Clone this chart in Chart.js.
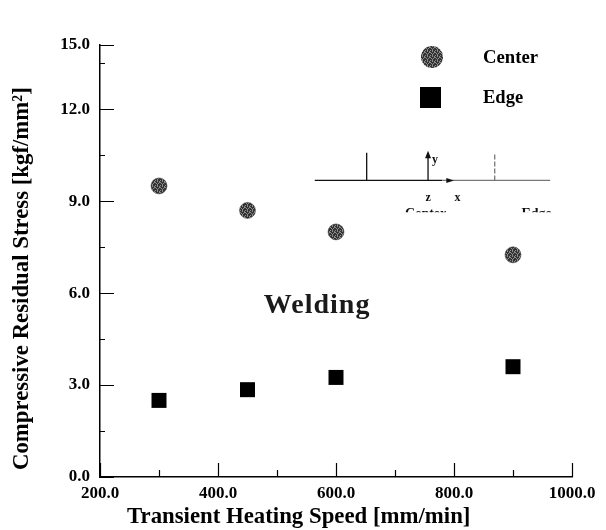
<!DOCTYPE html>
<html>
<head>
<meta charset="utf-8">
<script src="https://cdn.jsdelivr.net/npm/chart.js@4"></script>
<style>
  html, body { margin: 0; padding: 0; background: #fff; }
  #wrap { width: 606px; height: 530px; }
</style>
</head>
<body>
<div id="wrap"><canvas id="stress-chart"></canvas></div>
<script>
// values
var speeds = [300, 450, 600, 900];
var centerStress = [9.5, 8.7, 8.0, 7.25];
var edgeStress = [2.5, 2.85, 3.25, 3.6];

var xTickValues = [200, 400, 600, 800, 1000];
var xTickLabels = ['200.0', '400.0', '600.0', '800.0', '1000.0'];
var xMinorTicks = [300, 500, 700, 900];
// the top of the printed axis is cut short, the "15.0" mark sits at about 14.1
var yTickValues = [0, 3, 6, 9, 12, 14.1];
var yTickLabels = ['0.0', '3.0', '6.0', '9.0', '12.0', '15.0'];
var yMinorTicks = [1.5, 4.5, 7.5, 10.5, 13.5];

var xTitle = 'Transient Heating Speed [mm/min]';
var yTitle = 'Compressive Residual Stress [kgf/mm²]';

var serif = '"Liberation Serif", "DejaVu Serif", serif';

function toPoints(xs, ys) {
	return xs.map(function(x, i) { return { x: x, y: ys[i] }; });
}

// speckled grey fill for the round markers (fixed 5x5 tile)
var speckleTile = [
	'#.#..',
	'..#.#',
	'#...#',
	'.#.#.',
	'..#..'
];
function speckle() {
	var c = document.createElement('canvas');
	c.width = 5; c.height = 5;
	var g = c.getContext('2d');
	g.fillStyle = '#333';
	g.fillRect(0, 0, 5, 5);
	g.fillStyle = '#8c8c8c';
	speckleTile.forEach(function(row, r) {
		for (var k = 0; k < row.length; k++) {
			if (row[k] === '#') g.fillRect(k, r, 1, 1);
		}
	});
	return g.createPattern(c, 'repeat');
}
var centerFill = speckle();

// text scaled to a given width
function fitText(ctx, text, size, width) {
	ctx.font = 'bold ' + size + 'px ' + serif;
	var w = ctx.measureText(text).width;
	var s = size * width / w;
	ctx.font = 'bold ' + s.toFixed(1) + 'px ' + serif;
}

// inward ticks, axis titles, legend, inset sketch and the "Welding" label
var decorations = {
	id: 'decorations',
	afterDraw: function(chart) {
		var ctx = chart.ctx;
		var xs = chart.scales.x, ys = chart.scales.y;
		var area = chart.chartArea;
		ctx.save();
		ctx.strokeStyle = '#000';
		ctx.lineWidth = 1.2;
		ctx.beginPath();
		xTickValues.forEach(function(v) {
			var px = Math.round(xs.getPixelForValue(v)) + 0.5;
			ctx.moveTo(px, area.bottom); ctx.lineTo(px, area.bottom - 14);
		});
		xMinorTicks.forEach(function(v) {
			var px = Math.round(xs.getPixelForValue(v)) + 0.5;
			ctx.moveTo(px, area.bottom); ctx.lineTo(px, area.bottom - 7);
		});
		yTickValues.forEach(function(v) {
			var py = Math.round(ys.getPixelForValue(v)) + 0.5;
			ctx.moveTo(area.left, py); ctx.lineTo(area.left + 14, py);
		});
		yMinorTicks.forEach(function(v) {
			var py = Math.round(ys.getPixelForValue(v)) + 0.5;
			ctx.moveTo(area.left, py); ctx.lineTo(area.left + 5, py);
		});
		ctx.stroke();

		// axis titles
		ctx.fillStyle = '#000';
		ctx.textAlign = 'left';
		ctx.textBaseline = 'middle';
		fitText(ctx, xTitle, 21, 343);
		ctx.fillText(xTitle, 127, 517);
		ctx.save();
		ctx.translate(22, 470);
		ctx.rotate(-Math.PI / 2);
		fitText(ctx, yTitle, 20, 382);
		ctx.fillText(yTitle, 0, 0);
		ctx.restore();

		// legend
		var sets = chart.data.datasets;
		ctx.fillStyle = sets[0].backgroundColor;
		ctx.beginPath();
		ctx.arc(432, 57, 11, 0, Math.PI * 2);
		ctx.fill();
		ctx.fillStyle = sets[1].backgroundColor;
		ctx.fillRect(420, 87, 21, 21);
		ctx.fillStyle = '#000';
		fitText(ctx, sets[0].label, 16, 55);
		ctx.fillText(sets[0].label, 483, 58);
		fitText(ctx, sets[1].label, 16, 40);
		ctx.fillText(sets[1].label, 483, 98);

		// inset coordinate sketch
		var px = function(v) { return xs.getPixelForValue(v); };
		var py = function(v) { return ys.getPixelForValue(v); };
		var yBase = py(9.68);
		ctx.lineWidth = 1.3;
		ctx.strokeStyle = '#111';
		ctx.beginPath();
		ctx.moveTo(px(564), yBase); ctx.lineTo(px(780), yBase);
		ctx.moveTo(px(652), yBase); ctx.lineTo(px(652), py(10.58));
		ctx.moveTo(px(756), yBase); ctx.lineTo(px(756), py(10.55));
		ctx.stroke();
		ctx.strokeStyle = '#777';
		ctx.beginPath();
		ctx.moveTo(px(780), yBase); ctx.lineTo(px(963), yBase);
		ctx.stroke();
		ctx.setLineDash([5, 2]);
		ctx.beginPath();
		ctx.moveTo(px(869), yBase); ctx.lineTo(px(869), py(10.55));
		ctx.stroke();
		ctx.setLineDash([]);
		ctx.fillStyle = '#111';
		ctx.beginPath();
		ctx.moveTo(px(756), py(10.65)); ctx.lineTo(px(756) - 3, py(10.4)); ctx.lineTo(px(756) + 3, py(10.4));
		ctx.fill();
		ctx.beginPath();
		ctx.moveTo(px(800), yBase); ctx.lineTo(px(787), yBase - 2.5); ctx.lineTo(px(787), yBase + 2.5);
		ctx.fill();
		ctx.font = 'bold 12px ' + serif;
		ctx.textAlign = 'center';
		ctx.fillText('y', px(768), py(10.35));
		ctx.fillText('z', px(756), py(9.12));
		ctx.fillText('x', px(806), py(9.12));
		ctx.save();
		ctx.beginPath();
		ctx.rect(0, 0, 606, py(8.64));
		ctx.clip();
		ctx.font = 'bold 14px ' + serif;
		ctx.fillText('Center', px(752), py(8.58));
		ctx.fillText('Edge', px(940), py(8.58));
		ctx.restore();

		// welding label
		ctx.font = 'bold 28px ' + serif;
		ctx.letterSpacing = '1px';
		ctx.fillStyle = '#1a1a1a';
		ctx.textAlign = 'center';
		ctx.fillText('Welding', px(568), py(5.6));
		ctx.restore();
	}
};

var ctx = document.getElementById('stress-chart');

var stressChart = new Chart(ctx, {
	type: 'scatter',
	data: {
		datasets: [
			{
				label: 'Center',
				data: toPoints(speeds, centerStress),
				pointStyle: 'circle',
				pointRadius: 8,
				pointHoverRadius: 8,
				backgroundColor: centerFill,
				borderColor: '#333',
				borderWidth: 0.5
			},
			{
				label: 'Edge',
				data: toPoints(speeds, edgeStress),
				pointStyle: 'rect',
				pointRadius: 10.6,
				pointHoverRadius: 10.6,
				backgroundColor: '#000',
				borderColor: '#000',
				borderWidth: 0
			}
		]
	},
	options: {
		responsive: true,
		maintainAspectRatio: false,
		animation: false,
		events: [],
		layout: { padding: { left: 0, right: 34, top: 45, bottom: 0 } },
		plugins: {
			legend: { display: false },
			tooltip: { enabled: false }
		},
		scales: {
			x: {
				type: 'linear',
				min: 200,
				max: 1000,
				afterBuildTicks: function(scale) {
					scale.ticks = xTickValues.map(function(v) { return { value: v }; });
				},
				afterFit: function(scale) { scale.height = 53; },
				ticks: {
					padding: 6,
					color: '#000',
					font: { family: serif, size: 17, weight: 'bold' },
					maxRotation: 0,
					callback: function(v) { return xTickLabels[xTickValues.indexOf(v)]; }
				},
				grid: { display: false, drawTicks: false },
				border: { display: true, color: '#000', width: 1.5 },
				title: { display: false }
			},
			y: {
				type: 'linear',
				min: 0,
				max: 14.1,
				afterBuildTicks: function(scale) {
					scale.ticks = yTickValues.map(function(v) { return { value: v }; });
				},
				afterFit: function(scale) { scale.width = 100; },
				ticks: {
					padding: 10,
					color: '#000',
					font: { family: serif, size: 17, weight: 'bold' },
					callback: function(v) { return yTickLabels[yTickValues.indexOf(v)]; }
				},
				grid: { display: false, drawTicks: false },
				border: { display: true, color: '#000', width: 1.5 },
				title: { display: false }
			}
		}
	},
	plugins: [decorations]
});
</script>
</body>
</html>
